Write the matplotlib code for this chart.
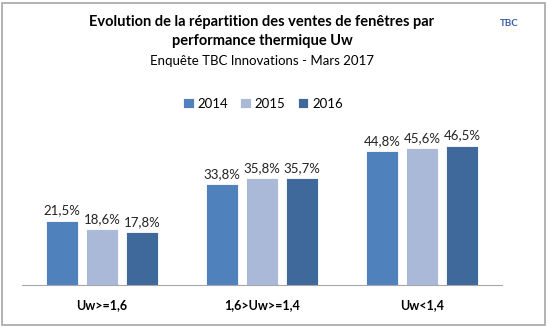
import numpy as np
import matplotlib.pyplot as plt
from matplotlib.patches import Rectangle

plt.rcParams['font.family'] = ['Lato', 'DejaVu Sans']

categories = ['Uw>=1,6', '1,6>Uw>=1,4', 'Uw<1,4']
years = ['2014', '2015', '2016']
v2014 = [21.5, 33.8, 44.8]
v2015 = [18.6, 35.8, 45.6]
v2016 = [17.8, 35.7, 46.5]
colors = ['#4F81BD', '#AAB9D7', '#3F699B']

fig = plt.figure(figsize=(5.5, 3.3), dpi=100)
fig.patches.append(Rectangle((2/550, 5/330), 543/550, 322/330, transform=fig.transFigure,
                             fill=False, edgecolor='#A6A6A6', linewidth=1.2))

ax = fig.add_axes([22/550, 45/330, 480/550, 150/330])
x = np.arange(len(categories))
series = [v2014, v2015, v2016]
for i, (vals, col, yr) in enumerate(zip(series, colors, years)):
    pos = x + (i - 1) * 0.25
    bars = ax.bar(pos, vals, width=0.2, color=col, edgecolor='white', linewidth=0.6, label=yr)
    for b, v in zip(bars, vals):
        ax.text(b.get_x() + b.get_width() / 2, v + 1.3, f'{v:.1f}%'.replace('.', ','),
                ha='center', va='bottom', fontsize=9.5, color='#222222')

ax.set_xlim(-0.5, 2.5)
ax.set_ylim(0, 50)
ax.set_yticks([])
ax.set_xticks(x)
ax.set_xticklabels(categories, fontsize=9, fontweight='bold')
ax.tick_params(axis='x', length=0, pad=10)
for s in ['top', 'right', 'left']:
    ax.spines[s].set_visible(False)
ax.spines['bottom'].set_color('#A6A6A6')

fig.text(262/550, 1 - 22/330, 'Evolution de la répartition des ventes de fenêtres par',
         ha='center', va='center', fontsize=10.5, fontweight='bold')
fig.text(262/550, 1 - 41/330, 'performance thermique Uw',
         ha='center', va='center', fontsize=10.5, fontweight='bold')
fig.text(262/550, 1 - 61/330, 'Enquête TBC Innovations - Mars 2017',
         ha='center', va='center', fontsize=9.5)
fig.text(509/550, 1 - 23/330, 'TBC', ha='center', va='center', fontsize=7,
         color='#3A5FA8', fontweight='bold')

fig.legend(loc='center', bbox_to_anchor=(263/550, 1 - 104/330), ncol=3, frameon=False,
           fontsize=9.5, handlelength=0.8, handleheight=0.8, handletextpad=0.3,
           columnspacing=0.9)

fig.savefig('out.png', dpi=100)
